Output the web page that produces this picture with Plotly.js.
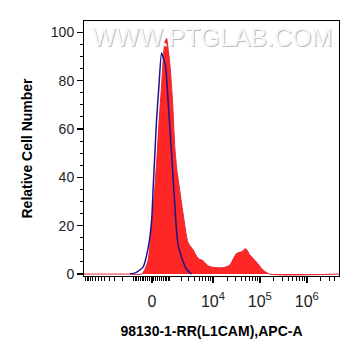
<!DOCTYPE html>
<html>
<head>
<meta charset="utf-8">
<script src="https://cdn.plot.ly/plotly-3.0.1.min.js"></script>
<style>html,body{margin:0;padding:0;background:#fff;}#chart{width:361px;height:356px;}</style>
</head>
<body>
<div id="chart"></div>
<script>
// Fluorescence intensity (APC-A) and relative cell number
const sampleX = [-14000, -1500, -526, -350, -180, -15, 147, 263, 366, 493, 582, 681, 784, 887, 1000, 1200, 1383, 1560, 1750, 2200, 2870, 3720, 4780, 6130, 7740, 10050, 16400, 22800, 31700, 40500, 50000, 60800, 84500, 116700, 162000, 4870000];
const sampleY = [0, 0, 0, 2, 6, 20, 36, 50, 64, 78, 88.6, 96, 97.5, 93, 87, 71, 52, 43, 37, 25, 13, 10, 6.5, 5.5, 3.5, 2.8, 2.6, 3.7, 8.5, 9.2, 10.5, 8, 5, 1.7, 0, 0];
const controlX = [-1300, -900, -440, -180, -15, 64, 147, 232, 350, 493, 622, 722, 887, 1121, 1245, 1383, 1540, 1677, 2027, 2646, 3430];
const controlY = [0, 0.5, 3, 11, 22, 36, 50, 64, 77.6, 91.5, 88.6, 86, 71, 50, 39, 28, 17, 12, 7, 2, 0];
const majorTickValues = [0, 10000, 100000, 1000000];
const majorTickLabels = ['0', '10<sup>4</sup>', '10<sup>5</sup>', '10<sup>6</sup>'];
const xRangeValues = [-14000, 4870000];
const yTickValues = [0, 20, 40, 60, 80, 100];

// biexponential-like display transform
const T = v => Math.asinh(v / 1000) / Math.LN10;

const minorVals = [];
for (let k = -900; k <= 900; k += 100) if (k !== 0) minorVals.push(k);
for (let k = 1; k <= 13; k++) minorVals.push(-1000 * k);
for (let d = 1000; d <= 100000; d *= 10) for (let k = 1; k <= 9; k++) minorVals.push(k * d);
for (let k = 2; k <= 4; k++) minorVals.push(k * 1000000);

const font = 'Liberation Sans, Arial, sans-serif';

const traces = [
  {
    x: sampleX.map(T), y: sampleY, type: 'scatter', mode: 'lines',
    fill: 'tozeroy', fillcolor: 'rgb(255,38,38)',
    line: {color: 'rgb(225,40,60)', width: 1, shape: 'spline', smoothing: 0.6},
    hoverinfo: 'skip'
  },
  {
    x: controlX.map(T), y: controlY, type: 'scatter', mode: 'lines',
    line: {color: 'rgb(30,20,140)', width: 1.5, shape: 'spline', smoothing: 0.6},
    hoverinfo: 'skip'
  }
];

const wm = 'WWW.PTGLAB.COM';
const layout = {
  width: 361, height: 356,
  margin: {l: 84, r: 21.5, t: 21, b: 80},
  paper_bgcolor: '#fff', plot_bgcolor: '#fff',
  showlegend: false,
  font: {family: font, color: '#222', size: 14},
  xaxis: {
    range: xRangeValues.map(T),
    tickmode: 'array', tickvals: majorTickValues.map(T), ticktext: majorTickLabels,
    ticks: 'outside', ticklen: 6, tickwidth: 1.5, tickcolor: '#000',
    ticklabelstandoff: 5,
    showgrid: false, zeroline: false,
    showline: true, linecolor: '#000', linewidth: 1, mirror: true,
    minor: {tickmode: 'array', tickvals: minorVals.map(T), ticks: 'outside', ticklen: 3.5, tickwidth: 1, tickcolor: '#000', showgrid: false},
    tickfont: {family: font, size: 16, color: '#222'},
    title: {text: '98130-1-RR(L1CAM),APC-A', font: {family: font, size: 14, color: '#000', weight: 'bold'}, standoff: 16}
  },
  yaxis: {
    range: [-0.8, 104.7],
    tickmode: 'array', tickvals: yTickValues,
    ticks: 'outside', ticklen: 6, tickwidth: 1.5, tickcolor: '#000',
    showgrid: false, zeroline: false,
    showline: true, linecolor: '#000', linewidth: 1, mirror: true,
    minor: {dtick: 5, tick0: 0, ticks: 'outside', ticklen: 3, tickwidth: 1, tickcolor: '#000', showgrid: false},
    tickfont: {family: font, size: 14, color: '#222'},
    title: {text: 'Relative Cell Number', font: {family: font, size: 14, color: '#000', weight: 'bold'}, standoff: 14}
  },
  annotations: [
    {text: wm, xref: 'paper', yref: 'paper', x: 0.5, y: 1, yanchor: 'top', yshift: -1, xshift: 1.2,
     showarrow: false, font: {family: font, size: 25, color: 'rgba(170,170,170,0.8)'}},
    {text: wm, xref: 'paper', yref: 'paper', x: 0.5, y: 1, yanchor: 'top', yshift: 0, xshift: 0,
     showarrow: false, font: {family: font, size: 25, color: 'rgba(248,248,248,1)'}}
  ]
};

Plotly.newPlot('chart', traces, layout, {staticPlot: true, displayModeBar: false});
</script>
</body>
</html>
